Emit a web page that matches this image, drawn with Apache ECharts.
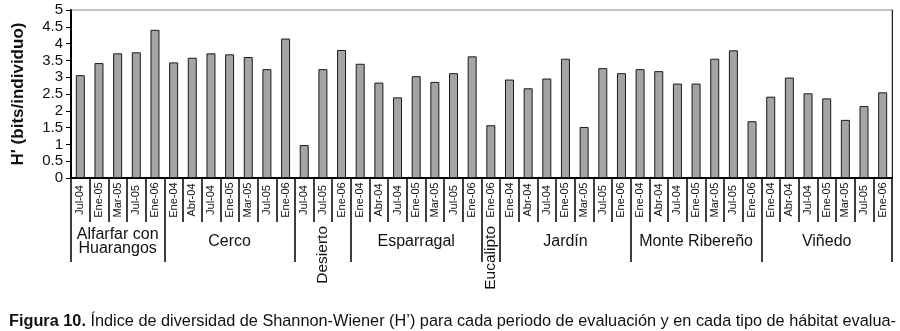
<!DOCTYPE html>
<html>
<head>
<meta charset="utf-8">
<script src="https://cdn.jsdelivr.net/npm/echarts@6/dist/echarts.min.js"></script>
<style>
  html, body { margin: 0; padding: 0; background: #fff; }
  #chart { width: 900px; height: 331px; }
</style>
</head>
<body>
<div id="chart"></div>
<script>
// habitat groups and how many sampling periods each one has
const groupNames = ['Alfarfar con\nHuarangos', 'Cerco', 'Desierto', 'Esparragal', 'Eucalipto', 'Jardín', 'Monte Ribereño', 'Viñedo'];
const groupSizes = [5, 7, 3, 7, 1, 7, 7, 7];
// narrow groups get their label written vertically
const verticalGroups = ['Desierto', 'Eucalipto'];

const periods = [
  'Jul-04', 'Ene-05', 'Mar-05', 'Jul-05', 'Ene-06',
  'Ene-04', 'Abr-04', 'Jul-04', 'Ene-05', 'Mar-05', 'Jul-05', 'Ene-06',
  'Jul-04', 'Jul-05', 'Ene-06',
  'Ene-04', 'Abr-04', 'Jul-04', 'Ene-05', 'Mar-05', 'Jul-05', 'Ene-06',
  'Ene-06',
  'Ene-04', 'Abr-04', 'Jul-04', 'Ene-05', 'Mar-05', 'Jul-05', 'Ene-06',
  'Ene-04', 'Abr-04', 'Jul-04', 'Ene-05', 'Mar-05', 'Jul-05', 'Ene-06',
  'Ene-04', 'Abr-04', 'Jul-04', 'Ene-05', 'Mar-05', 'Jul-05', 'Ene-06'
];

// H' (bits/individuo)
const hValues = [
  3.06, 3.42, 3.71, 3.74, 4.41,
  3.44, 3.58, 3.71, 3.68, 3.60, 3.24, 4.15,
  0.98, 3.24, 3.81,
  3.40, 2.84, 2.40, 3.03, 2.86, 3.12, 3.62,
  1.57,
  2.93, 2.67, 2.96, 3.55, 1.52, 3.27, 3.12,
  3.24, 3.18, 2.81, 2.81, 3.55, 3.80, 1.69,
  2.42, 2.99, 2.52, 2.37, 1.73, 2.14, 2.55
];

// index where each group starts, and the index of its middle bar
const groupStart = [];
const groupMiddle = {};
let acc = 0;
groupSizes.forEach((n, i) => {
  groupStart.push(acc);
  groupMiddle[acc + (n - 1) / 2] = groupNames[i];
  acc += n;
});

const font = "'Liberation Sans', Arial, sans-serif";
const chart = echarts.init(document.getElementById('chart'), null, { renderer: 'canvas' });

const option = {
  animation: false,
  title: {
    left: 4,
    top: 309,
    text: '{b|Figura 10.} Índice de diversidad de Shannon-Wiener (H’) para cada periodo de evaluación y en cada tipo de hábitat evalua-',
    textStyle: {
      fontFamily: font,
      fontSize: 16.3,
      fontWeight: 'normal',
      color: '#111',
      rich: {
        b: { fontFamily: font, fontSize: 16.3, fontWeight: 'bold', color: '#111' }
      }
    }
  },
  grid: {
    left: 71,
    right: 8,
    top: 10,
    bottom: 153,
    show: true,
    borderColor: '#888',
    borderWidth: 1
  },
  xAxis: [
    {
      // sampling period row
      type: 'category',
      data: periods,
      axisLine: { show: true, lineStyle: { color: '#000', width: 2 } },
      axisTick: { show: true, interval: 0, length: 44, lineStyle: { color: '#000', width: 1.5 } },
      axisLabel: {
        interval: 0,
        rotate: 90,
        align: 'center',
        margin: 22,
        fontFamily: font,
        fontSize: 11,
        color: '#111'
      }
    },
    {
      // habitat row, horizontal names
      type: 'category',
      data: periods,
      position: 'bottom',
      axisLine: { show: false },
      axisTick: {
        show: true,
        interval: (i) => groupStart.includes(i),
        length: 84,
        lineStyle: { color: '#000', width: 1.5 }
      },
      axisLabel: {
        interval: (i) => groupMiddle[i] !== undefined && !verticalGroups.includes(groupMiddle[i]),
        formatter: (v, i) => groupMiddle[i] || '',
        margin: 64,
        verticalAlign: 'middle',
        lineHeight: 14,
        fontFamily: font,
        fontSize: 16,
        color: '#111'
      }
    },
    {
      // habitat row, vertical names for narrow groups
      type: 'category',
      data: periods,
      position: 'bottom',
      axisLine: { show: false },
      axisTick: { show: false },
      axisLabel: {
        interval: (i) => verticalGroups.includes(groupMiddle[i]),
        formatter: (v, i) => groupMiddle[i] || '',
        rotate: 90,
        margin: 48,
        fontFamily: font,
        fontSize: 15.5,
        color: '#111'
      }
    }
  ],
  yAxis: [
    {
      type: 'value',
      min: 0,
      max: 5,
      interval: 0.5,
      name: "H' (bits/individuo)",
      nameLocation: 'middle',
      nameGap: 44,
      nameTextStyle: { fontFamily: font, fontSize: 17, fontWeight: 'bold', color: '#111' },
      splitLine: { show: false },
      axisLine: { show: true, lineStyle: { color: '#000', width: 2 } },
      axisTick: { show: true, length: 5, lineStyle: { color: '#000' } },
      axisLabel: { margin: 8, fontFamily: font, fontSize: 15, color: '#111' }
    },
    {
      type: 'value',
      position: 'right',
      min: 0,
      max: 5,
      splitLine: { show: false },
      axisLine: { show: true, lineStyle: { color: '#222', width: 1 } },
      axisTick: { show: false },
      axisLabel: { show: false }
    }
  ],
  series: [
    {
      type: 'bar',
      data: hValues,
      barWidth: 9,
      itemStyle: { color: '#a4a4a4', borderColor: '#1a1a1a', borderWidth: 1 }
    }
  ]
};

chart.setOption(option);
</script>
</body>
</html>
